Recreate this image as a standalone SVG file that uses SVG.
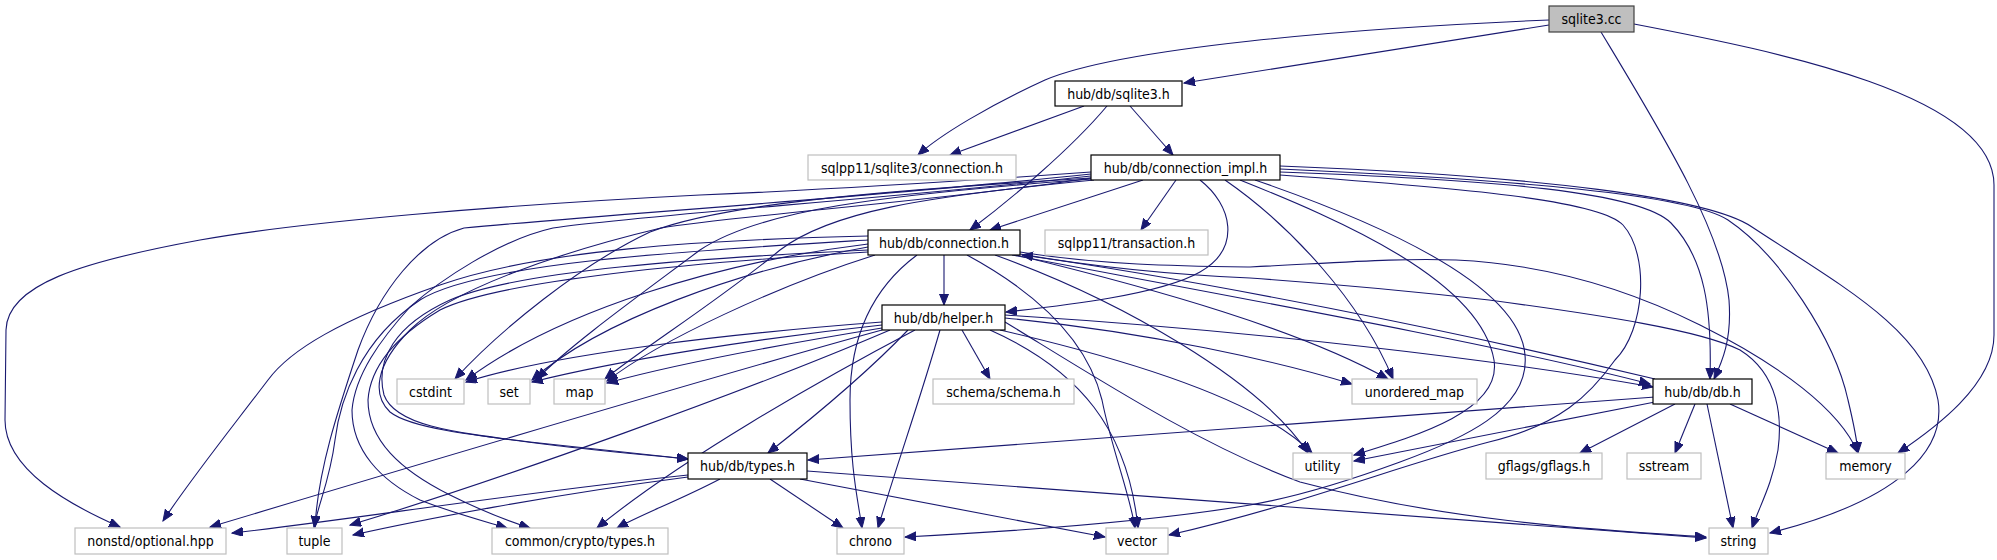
<svg xmlns="http://www.w3.org/2000/svg" width="1997" height="560" viewBox="0 0 1997 560">
<style>
.n rect{fill:#fff;stroke:#000;stroke-width:1.2}
.g rect{fill:#fff;stroke:#bfbfbf;stroke-width:1.2}
.r rect{fill:#bfbfbf;stroke:#404040;stroke-width:1.2}
text{font-family:"DejaVu Sans Condensed","DejaVu Sans",sans-serif;font-stretch:condensed;font-size:14px;fill:#000;text-anchor:middle}
#edges path{fill:none;stroke:#191970;stroke-width:1.1;marker-end:url(#ah)}
</style>
<defs>
<marker id="ah" markerUnits="userSpaceOnUse" markerWidth="12" markerHeight="10" refX="11" refY="4.5" orient="auto">
<path d="M0,0 L11,4.5 L0,9 z" fill="#191970" stroke="#191970" stroke-width="1"/>
</marker>
</defs>
<rect width="1997" height="560" fill="#fff"/>
<g id="edges">
<path d="M1549,25 L1184,83"/>
<path d="M1549,20 C1350,28 1120,48 1045,80 C990,105 940,135 918,155"/>
<path d="M1601,32 C1660,130 1722,230 1729,300 C1732,340 1722,362 1714,379"/>
<path d="M1634,24 C1780,52 1994,95 1994,185 L1994,335 C1994,385 1935,428 1898,453"/>
<path d="M1084,106 L950,155"/>
<path d="M1130,106 L1173,155"/>
<path d="M1107,106 C1070,150 1010,200 970,230"/>
<path d="M1143,180 L990,230"/>
<path d="M1176,180 L1141,230"/>
<path d="M1200,180 C1232,205 1242,248 1200,272 C1160,295 1060,306 1006,312"/>
<path d="M1280,172 C1500,180 1640,192 1671,223 C1705,258 1712,310 1710,379"/>
<path d="M1280,169 C1520,180 1690,195 1728,220 C1780,255 1835,340 1848,400 C1854,425 1857,440 1858,453"/>
<path d="M1280,166 C1540,176 1710,198 1752,227 C1840,285 1925,330 1938,400 C1946,450 1900,500 1770,533"/>
<path d="M1280,175 C1460,188 1600,200 1623,225 C1650,255 1645,330 1615,360 C1590,395 1560,425 1489,442 C1400,465 1300,505 1169,535"/>
<path d="M1240,180 C1340,220 1480,280 1494,360 C1502,410 1420,435 1354,455"/>
<path d="M1225,180 C1290,225 1360,300 1393,379"/>
<path d="M1255,180 C1400,230 1520,290 1525,355 C1530,410 1460,440 1400,462 C1340,484 1290,498 1250,505 C1150,522 1000,532 905,537"/>
<path d="M1091,172 C950,182 820,190 700,195 C500,205 300,222 200,240 C80,262 7,285 6,330 L5,420 C5,470 70,505 120,527"/>
<path d="M1091,174 C900,195 600,215 464,228 C420,240 380,290 358,350 C338,410 318,470 315,527"/>
<path d="M1091,176 C900,198 640,215 553,228 C500,240 440,280 410,307 C380,340 355,375 352,410 C352,450 380,480 420,500 C450,512 480,520 507,528"/>
<path d="M1091,178 C950,200 740,215 661,228 C560,252 450,290 410,330 C375,365 372,395 390,412 C410,428 470,435 560,446 C620,453 660,456 688,459"/>
<path d="M1091,178 C860,192 720,205 650,232 C580,265 500,330 455,379"/>
<path d="M1092,179 C880,195 760,210 700,250 C640,295 570,345 537,379"/>
<path d="M1094,180 C920,197 830,212 780,250 C720,300 640,350 605,379"/>
<path d="M944,255 L944,305"/>
<path d="M1012,255 C1250,300 1500,345 1650,384"/>
<path d="M1655,379 C1450,330 1200,280 1022,255"/>
<path d="M1020,254 C1100,268 1180,275 1250,278 C1350,285 1420,292 1489,300 C1600,315 1700,330 1740,350 C1780,375 1782,420 1778,450 C1772,485 1760,505 1752,528"/>
<path d="M1020,252 C1100,265 1180,266 1250,267 C1350,262 1400,258 1456,260 C1560,265 1640,295 1700,325 C1780,365 1840,410 1858,453"/>
<path d="M1016,255 C1160,290 1300,330 1388,379"/>
<path d="M995,255 C1120,300 1260,380 1308,453"/>
<path d="M967,255 C1050,300 1090,350 1102,400 C1112,450 1130,495 1135,528"/>
<path d="M917,255 C870,290 850,340 850,400 C850,470 858,500 862,528"/>
<path d="M868,236 C700,240 540,250 440,285 C340,320 290,350 268,380 C230,430 190,480 163,521"/>
<path d="M868,240 C700,250 480,262 420,300 C360,340 340,400 335,440 C330,480 318,505 314,527"/>
<path d="M868,244 C720,262 560,310 466,380"/>
<path d="M868,247 C740,270 600,320 532,380"/>
<path d="M875,255 C780,285 660,340 607,381"/>
<path d="M868,250 C700,258 520,270 450,300 C395,325 375,360 384,395 C395,425 450,432 530,442 C600,450 650,455 688,459"/>
<path d="M868,252 C700,262 500,280 440,310 C390,340 370,370 368,400 C368,440 400,470 450,495 C480,510 505,520 530,528"/>
<path d="M962,330 L990,379"/>
<path d="M882,322 C750,332 560,352 466,382"/>
<path d="M882,325 C760,338 620,360 532,382"/>
<path d="M882,328 C790,343 680,363 607,383"/>
<path d="M908,330 C870,370 810,420 768,453"/>
<path d="M1005,318 C1150,332 1280,362 1352,384"/>
<path d="M1000,330 C1130,360 1260,400 1312,453"/>
<path d="M1005,315 C1250,330 1500,360 1653,387"/>
<path d="M882,330 C700,380 400,470 210,527"/>
<path d="M890,330 C750,390 500,480 350,525"/>
<path d="M915,330 C820,380 680,460 597,528"/>
<path d="M940,330 C920,400 895,470 878,528"/>
<path d="M990,330 C1080,370 1128,430 1138,528"/>
<path d="M1005,322 C1100,380 1200,445 1300,482 C1450,522 1600,530 1706,537"/>
<path d="M1655,397 L808,460"/>
<path d="M1655,402 L1354,461"/>
<path d="M1675,404 L1580,453"/>
<path d="M1695,404 L1675,453"/>
<path d="M1730,404 L1838,453"/>
<path d="M1707,404 L1733,528"/>
<path d="M688,475 C500,495 350,520 232,533"/>
<path d="M688,477 C550,495 420,520 353,535"/>
<path d="M720,479 C680,500 640,515 617,528"/>
<path d="M770,479 L843,528"/>
<path d="M800,479 L1105,537"/>
<path d="M807,471 C1200,500 1500,520 1706,538"/>
</g>
<g id="n_sqlite3_cc" class="r"><rect x="1549" y="6" width="85" height="26"/><text x="1591.5" y="24">sqlite3.cc</text></g>
<g id="n_sqlite3_h" class="n"><rect x="1055" y="81" width="127" height="25"/><text x="1118.5" y="98.5">hub/db/sqlite3.h</text></g>
<g id="n_sqlpp_conn" class="g"><rect x="808" y="155" width="208" height="25"/><text x="912" y="172.5">sqlpp11/sqlite3/connection.h</text></g>
<g id="n_conn_impl" class="n"><rect x="1091" y="155" width="189" height="25"/><text x="1185.5" y="172.5">hub/db/connection_impl.h</text></g>
<g id="n_connection" class="n"><rect x="868" y="230" width="152" height="25"/><text x="944" y="247.5">hub/db/connection.h</text></g>
<g id="n_transaction" class="g"><rect x="1045" y="230" width="163" height="25"/><text x="1126.5" y="247.5">sqlpp11/transaction.h</text></g>
<g id="n_helper" class="n"><rect x="882" y="305" width="123" height="25"/><text x="943.5" y="322.5">hub/db/helper.h</text></g>
<g id="n_cstdint" class="g"><rect x="397" y="379" width="67" height="25"/><text x="430.5" y="396.5">cstdint</text></g>
<g id="n_set" class="g"><rect x="488" y="379" width="42" height="25"/><text x="509" y="396.5">set</text></g>
<g id="n_map" class="g"><rect x="554" y="379" width="51" height="25"/><text x="579.5" y="396.5">map</text></g>
<g id="n_schema" class="g"><rect x="933" y="379" width="141" height="25"/><text x="1003.5" y="396.5">schema/schema.h</text></g>
<g id="n_unordered_map" class="g"><rect x="1352" y="379" width="125" height="25"/><text x="1414.5" y="396.5">unordered_map</text></g>
<g id="n_db" class="n"><rect x="1653" y="379" width="99" height="25"/><text x="1702.5" y="396.5">hub/db/db.h</text></g>
<g id="n_types" class="n"><rect x="688" y="453" width="119" height="26"/><text x="747.5" y="471">hub/db/types.h</text></g>
<g id="n_utility" class="g"><rect x="1293" y="453" width="59" height="26"/><text x="1322.5" y="471">utility</text></g>
<g id="n_gflags" class="g"><rect x="1486" y="453" width="116" height="26"/><text x="1544" y="471">gflags/gflags.h</text></g>
<g id="n_sstream" class="g"><rect x="1627" y="453" width="74" height="26"/><text x="1664" y="471">sstream</text></g>
<g id="n_memory" class="g"><rect x="1826" y="453" width="79" height="26"/><text x="1865.5" y="471">memory</text></g>
<g id="n_nonstd" class="g"><rect x="75" y="528" width="151" height="26"/><text x="150.5" y="546">nonstd/optional.hpp</text></g>
<g id="n_tuple" class="g"><rect x="287" y="528" width="55" height="26"/><text x="314.5" y="546">tuple</text></g>
<g id="n_crypto" class="g"><rect x="492" y="528" width="176" height="26"/><text x="580" y="546">common/crypto/types.h</text></g>
<g id="n_chrono" class="g"><rect x="837" y="528" width="67" height="26"/><text x="870.5" y="546">chrono</text></g>
<g id="n_vector" class="g"><rect x="1106" y="528" width="62" height="26"/><text x="1137" y="546">vector</text></g>
<g id="n_string" class="g"><rect x="1709" y="528" width="59" height="26"/><text x="1738.5" y="546">string</text></g>
</svg>
